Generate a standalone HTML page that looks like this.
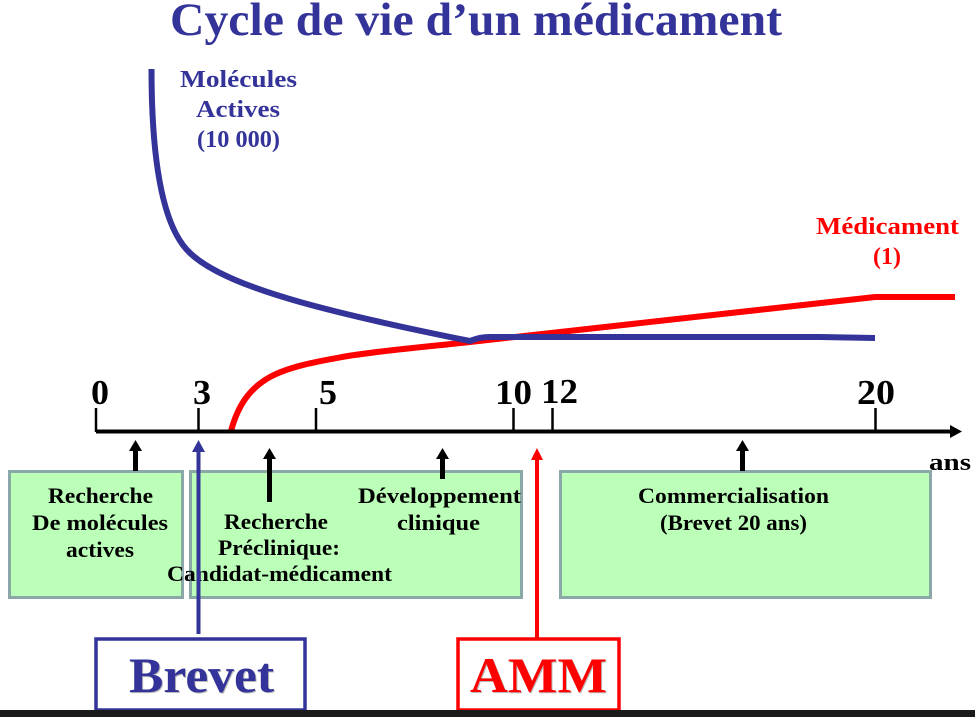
<!DOCTYPE html>
<html><head><meta charset="utf-8"><style>
html,body{margin:0;padding:0;background:#fff;}
svg{display:block;}
text{font-family:"Liberation Serif",serif;font-weight:bold;}
</style></head><body>
<svg width="975" height="717" viewBox="0 0 975 717" xmlns="http://www.w3.org/2000/svg">
<rect width="975" height="717" fill="#fff"/>
<text x="170" y="35" font-size="47" fill="#333399" textLength="612" lengthAdjust="spacingAndGlyphs">Cycle de vie d’un médicament</text>
<g fill="#333399" font-size="24">
<text x="180" y="87" textLength="117" lengthAdjust="spacingAndGlyphs">Molécules</text>
<text x="196" y="117" textLength="84" lengthAdjust="spacingAndGlyphs">Actives</text>
<text x="197" y="147" textLength="83" lengthAdjust="spacingAndGlyphs">(10 000)</text>
</g>
<g fill="#ff0000" font-size="24">
<text x="816" y="234" textLength="143" lengthAdjust="spacingAndGlyphs">Médicament</text>
<text x="873" y="264" textLength="28" lengthAdjust="spacingAndGlyphs">(1)</text>
</g>
<path d="M231 431 C238 405 250 388 270 377 C290 366 320 361 345 356.500 C385 350 430 346.500 470 342 L875 297 L955 297" fill="none" stroke="#ff0000" stroke-width="6"/>
<path d="M151.500 69 C151.500 150 160 225 190 253 C210 272 250 288 300 302 C350 316 410 329 470 341 C476 339 480 337 490 337 L820 337 L875 338" fill="none" stroke="#333399" stroke-width="6"/>
<g fill="#000" font-size="35">
<text x="91" y="404" textLength="18" lengthAdjust="spacingAndGlyphs">0</text>
<text x="193" y="404" textLength="18" lengthAdjust="spacingAndGlyphs">3</text>
<text x="319" y="404" textLength="18" lengthAdjust="spacingAndGlyphs">5</text>
<text x="495" y="404" textLength="37" lengthAdjust="spacingAndGlyphs">10</text>
<text x="541" y="403" textLength="37" lengthAdjust="spacingAndGlyphs">12</text>
<text x="857" y="404" textLength="38" lengthAdjust="spacingAndGlyphs">20</text>
</g>
<g stroke="#000" stroke-width="2.5">
<line x1="96" y1="408" x2="96" y2="432"/>
<line x1="198.500" y1="408" x2="198.500" y2="432"/>
<line x1="316" y1="408" x2="316" y2="432"/>
<line x1="513.500" y1="408" x2="513.500" y2="432"/>
<line x1="552.500" y1="408" x2="552.500" y2="432"/>
<line x1="875.500" y1="408" x2="875.500" y2="432"/>
</g>
<line x1="96" y1="431.500" x2="952" y2="431.500" stroke="#000" stroke-width="4"/>
<polygon points="950,425 962,431.500 950,438" fill="#000"/>
<g fill="#bbffb8" stroke="#8aa8a8" stroke-width="3">
<rect x="9.500" y="471.500" width="173" height="126"/>
<rect x="190.500" y="471.500" width="331" height="126"/>
<rect x="560.500" y="471.500" width="370" height="126"/>
</g>
<g fill="#000" font-size="22">
<text x="48" y="503" textLength="105" lengthAdjust="spacingAndGlyphs">Recherche</text>
<text x="32" y="530" textLength="136" lengthAdjust="spacingAndGlyphs">De molécules</text>
<text x="66" y="557" textLength="68" lengthAdjust="spacingAndGlyphs">actives</text>
<text x="224" y="529" textLength="104" lengthAdjust="spacingAndGlyphs">Recherche</text>
<text x="218" y="555" textLength="122" lengthAdjust="spacingAndGlyphs">Préclinique:</text>
<text x="167" y="581" textLength="225" lengthAdjust="spacingAndGlyphs">Candidat-médicament</text>
<text x="358" y="503" textLength="163" lengthAdjust="spacingAndGlyphs">Développement</text>
<text x="397" y="530" textLength="83" lengthAdjust="spacingAndGlyphs">clinique</text>
<text x="638" y="503" textLength="191" lengthAdjust="spacingAndGlyphs">Commercialisation</text>
<text x="660" y="530" textLength="147" lengthAdjust="spacingAndGlyphs">(Brevet 20 ans)</text>
<text x="929" y="470" font-size="24" textLength="42" lengthAdjust="spacingAndGlyphs">ans</text>
</g>
<g fill="#000">
<rect x="133" y="449" width="5" height="22"/><polygon points="135.500,440 142,451 129,451"/>
<rect x="267" y="456" width="5" height="46"/><polygon points="269.500,448 276,459 263,459"/>
<rect x="440" y="456" width="5" height="23"/><polygon points="442.500,448 449,459 436,459"/>
<rect x="740" y="449" width="5" height="22"/><polygon points="742.500,440 749,451 736,451"/>
</g>
<rect x="196.500" y="450" width="4" height="184" fill="#333399"/>
<polygon points="198.500,440 205,452 192,452" fill="#333399"/>
<rect x="535" y="456" width="4" height="184" fill="#ff0000"/>
<polygon points="537,448 543,460 531,460" fill="#ff0000"/>
<rect x="96" y="639" width="209" height="71" fill="#fff" stroke="#333399" stroke-width="3.500"/>
<rect x="458" y="639" width="161" height="71" fill="#fff" stroke="#ff0000" stroke-width="3.500"/>
<g font-size="50">
<text x="130" y="693" fill="#bbb" textLength="145" lengthAdjust="spacingAndGlyphs">Brevet</text>
<text x="129" y="692" fill="#333399" textLength="145" lengthAdjust="spacingAndGlyphs">Brevet</text>
<text x="471" y="693" fill="#bbb" textLength="137" lengthAdjust="spacingAndGlyphs">AMM</text>
<text x="470" y="692" fill="#ff0000" textLength="137" lengthAdjust="spacingAndGlyphs">AMM</text>
</g>
<rect x="0" y="710" width="975" height="7" fill="#1a1a1a"/>
</svg>
</body></html>
